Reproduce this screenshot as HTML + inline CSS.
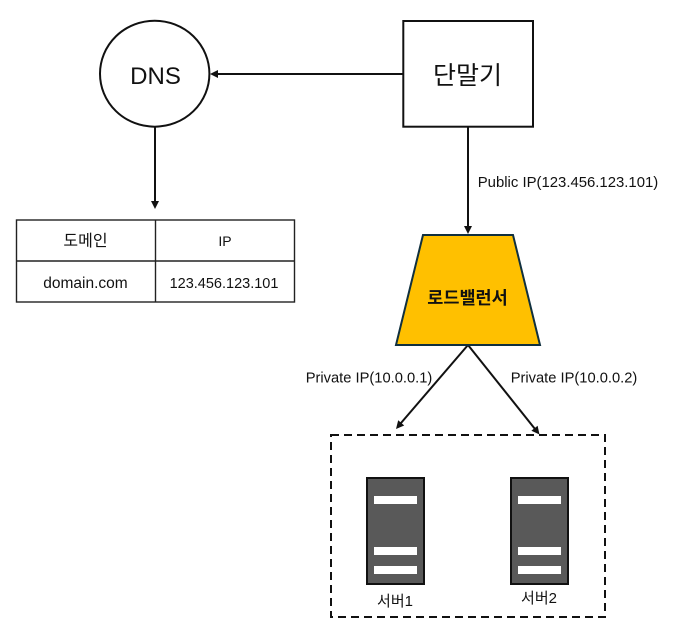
<!DOCTYPE html>
<html>
<head>
<meta charset="utf-8">
<style>
html,body{margin:0;padding:0;background:#fff;width:677px;height:643px;overflow:hidden}
svg{display:block}
text{font-family:"Liberation Sans","Noto Sans CJK KR","NanumGothic",sans-serif;fill:#111;text-anchor:middle}
</style>
</head>
<body>
<svg width="677" height="643" viewBox="0 0 677 643" xmlns="http://www.w3.org/2000/svg">
<rect width="677" height="643" fill="#fff"/>

<!-- DNS -->
<ellipse cx="154.7" cy="73.7" rx="54.7" ry="53" fill="#fff" stroke="#111" stroke-width="2"/>
<text x="155.5" y="84" font-size="24">DNS</text>

<!-- Terminal -->
<rect x="403.3" y="21" width="129.7" height="105.7" fill="#fff" stroke="#111" stroke-width="2"/>
<text x="467.5" y="84" font-size="25">단말기</text>

<!-- Arrows -->
<g stroke="#111" stroke-width="2" fill="none">
<line x1="403" y1="74" x2="216" y2="74"/>
<line x1="155" y1="127" x2="155" y2="202"/>
<line x1="468" y1="127" x2="468" y2="227"/>
<line x1="468" y1="345" x2="401" y2="423"/>
<line x1="468" y1="345" x2="535" y2="429"/>
</g>
<g fill="#111">
<polygon points="210,74 218,70 218,78"/>
<polygon points="155,209 151,201 159,201"/>
<polygon points="468,234 464,226 472,226"/>
<polygon points="396,429 398.2,420.3 404.2,425.5"/>
<polygon points="539.5,434.5 531.4,430.8 537.6,425.8"/>
</g>

<!-- Table -->
<rect x="16.5" y="220" width="278" height="82" fill="#fff" stroke="#222" stroke-width="1.4"/>
<line x1="155.5" y1="220" x2="155.5" y2="302" stroke="#222" stroke-width="1.4"/>
<line x1="16.5" y1="261" x2="294.5" y2="261" stroke="#222" stroke-width="1.4"/>
<text x="85.5" y="246" font-size="16">도메인</text>
<text x="225" y="246" font-size="14">IP</text>
<text x="85.5" y="288" font-size="15.5">domain.com</text>
<text x="224" y="288" font-size="14.5">123.456.123.101</text>

<!-- Labels -->
<text x="568" y="187" font-size="14.9">Public IP(123.456.123.101)</text>
<text x="369" y="382.5" font-size="14.7">Private IP(10.0.0.1)</text>
<text x="574" y="382.5" font-size="14.7">Private IP(10.0.0.2)</text>

<!-- Load balancer -->
<polygon points="423,235 513,235 540,345 396,345" fill="#ffc000" stroke="#10303f" stroke-width="2"/>
<text x="467.5" y="304" font-size="17.5" font-weight="bold">로드밸런서</text>

<!-- Dashed group -->
<rect x="331" y="435" width="274" height="182" fill="none" stroke="#111" stroke-width="2" stroke-dasharray="8 5"/>

<!-- Server 1 -->
<rect x="367" y="478" width="57" height="106" fill="#595959" stroke="#111" stroke-width="2"/>
<rect x="374" y="496" width="43" height="8" fill="#fff"/>
<rect x="374" y="547" width="43" height="8" fill="#fff"/>
<rect x="374" y="566" width="43" height="8" fill="#fff"/>
<text x="395" y="606" font-size="15">서버1</text>

<!-- Server 2 -->
<rect x="511" y="478" width="57" height="106" fill="#595959" stroke="#111" stroke-width="2"/>
<rect x="518" y="496" width="43" height="8" fill="#fff"/>
<rect x="518" y="547" width="43" height="8" fill="#fff"/>
<rect x="518" y="566" width="43" height="8" fill="#fff"/>
<text x="539" y="603" font-size="15">서버2</text>
</svg>
</body>
</html>
